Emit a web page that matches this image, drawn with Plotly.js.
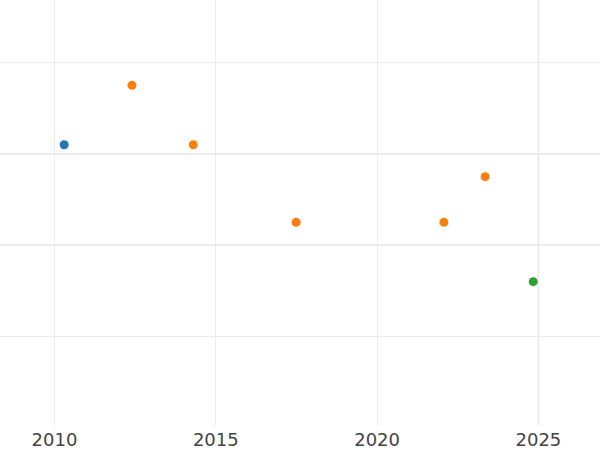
<!DOCTYPE html>
<html>
<head>
<meta charset="utf-8">
<script src="https://cdn.plot.ly/plotly-3.0.1.min.js"></script>
<style>html,body{margin:0;padding:0;background:#fff;}#chart{width:600px;height:450px;}</style>
</head>
<body>
<div id="chart"></div>
<script>
// Data
const blueX = [2010.30];
const blueY = [3.10];
const orangeX = [2012.40, 2014.30, 2017.49, 2022.07, 2023.35];
const orangeY = [3.75, 3.10, 2.25, 2.25, 2.75];
const greenX = [2024.84];
const greenY = [1.60];
const xTickVals = [2010, 2015, 2020, 2025];
const xTickText = ["2010", "2015", "2020", "2025"];
const yMajorVals = [2, 3];
const yMinorVals = [1, 4];

const gridColor = '#ebebeb';
const mk = (x, y, color) => ({
  x: x, y: y, type: 'scatter', mode: 'markers',
  marker: {size: 9, color: color},
  showlegend: false, hoverinfo: 'x+y'
});

const data = [
  mk(blueX, blueY, '#1f77b4'),
  mk(orangeX, orangeY, '#ff7f0e'),
  mk(greenX, greenY, '#2ca02c')
];

const layout = {
  width: 600, height: 450,
  margin: {l: 0, r: 0, t: 0, b: 25, pad: 0},
  paper_bgcolor: '#fff', plot_bgcolor: '#fff',
  showlegend: false,
  font: {family: 'DejaVu Sans', color: '#444'},
  xaxis: {
    range: [2008.31, 2026.91],
    tickmode: 'array', tickvals: xTickVals, ticktext: xTickText,
    showgrid: true, gridcolor: gridColor, gridwidth: 1,
    zeroline: false, showline: false, ticks: '',
    ticklabelstandoff: 2,
    tickfont: {family: 'DejaVu Sans', size: 18, color: '#444'},
    automargin: false
  },
  yaxis: {
    range: [0.03, 4.685],
    tickmode: 'array', tickvals: yMajorVals,
    showticklabels: false,
    showgrid: true, gridcolor: gridColor, gridwidth: 2,
    zeroline: false, showline: false, ticks: '',
    minor: {tickmode: 'array', tickvals: yMinorVals, showgrid: true, gridcolor: gridColor, gridwidth: 1, ticks: ''},
    automargin: false
  },
  shapes: [{
    type: 'line', xref: 'x', yref: 'paper', x0: 2025, x1: 2025, y0: 0, y1: 1,
    line: {color: gridColor, width: 2}, layer: 'below'
  }]
};

Plotly.newPlot('chart', data, layout, {displayModeBar: false, staticPlot: true});
</script>
</body>
</html>
